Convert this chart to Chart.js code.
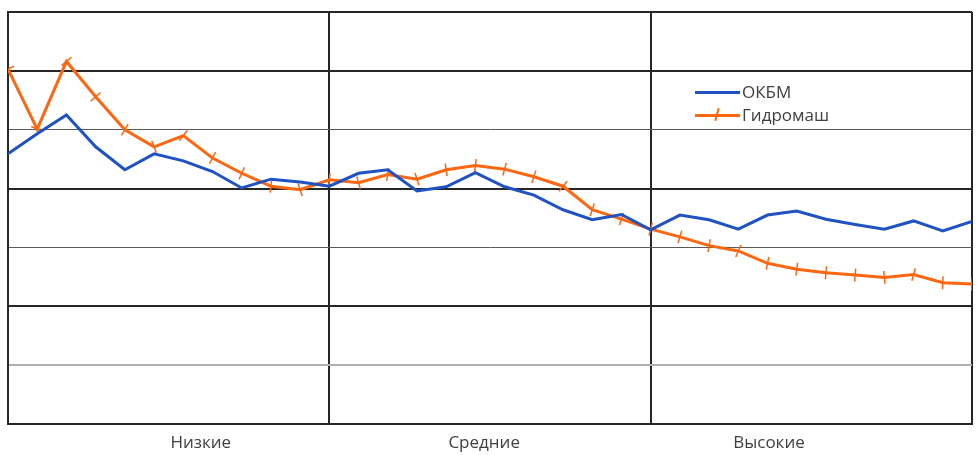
<!DOCTYPE html>
<html><head><meta charset="utf-8">
<script src="https://cdn.jsdelivr.net/npm/chart.js@4/dist/chart.umd.min.js"></script>
<style>
html,body{margin:0;padding:0;background:#fff}
#wrap{position:relative;width:980px;height:455px}
#legend{position:absolute;left:695px;top:80px;font:17px 'Open Sans',sans-serif;color:#404040}
.item{position:relative;height:23px;line-height:23px;padding-left:47px;white-space:nowrap}
.sw{position:absolute;left:0;top:11px;width:45px;height:3px}
.mk{position:absolute;left:21px;top:5px;width:2px;height:13px;transform:rotate(15deg)}
</style></head><body>
<div id="wrap"><canvas id="c" width="980" height="455"></canvas><div id="legend"></div></div>
<script>
const steps = [0,1,2,3,4,5,6,7,8,9,10,11,12,13,14,15,16,17,18,19,20,21,22,23,24,25,26,27,28,29,30,31,32,33];
const sections = ['Низкие','Средние','Высокие'];
const seriesNames = ['ОКБМ','Гидромаш'];
const okbm = [4.59,4.93,5.25,4.71,4.32,4.59,4.47,4.29,4.01,4.16,4.11,4.04,4.26,4.32,3.96,4.03,4.27,4.03,3.89,3.64,3.47,3.56,3.30,3.55,3.47,3.31,3.55,3.62,3.48,3.39,3.31,3.45,3.28,3.44];
const gidromash = [6.03,5.01,6.16,5.56,5.00,4.71,4.90,4.52,4.26,4.04,3.98,4.15,4.10,4.24,4.16,4.32,4.39,4.33,4.20,4.04,3.64,3.48,3.31,3.18,3.03,2.94,2.73,2.63,2.57,2.53,2.49,2.54,2.40,2.38];
const yTicks = [0,1,2,3,4,5,6,7];

const BLUE = '#1f52c2', ORANGE = '#fd6711';
const toXY = arr => arr.map((v,i)=>({x:steps[i], y:v}));
const sectionLabelAt = [6.6, 16.3, 26.05];

const yGridColor = v => ({1:'#b0b0b0',3:'#5a5a5a',5:'#5a5a5a'})[v] || '#262626';
const yGridWidth = v => (v===3||v===5) ? 1 : 2;

// marker perpendicular to the outgoing segment
function perpRotation(ctx) {
  const ch = ctx.chart, ds = ch.data.datasets[ctx.datasetIndex].data, i = ctx.dataIndex;
  const sx = ch.scales.x, sy = ch.scales.y;
  if (!sx || !sy || !ds[i]) return 90;
  const j = i < ds.length - 1 ? i + 1 : i - 1;
  const a = ds[Math.min(i,j)], b = ds[Math.max(i,j)];
  const dx = sx.getPixelForValue(b.x) - sx.getPixelForValue(a.x);
  const dy = sy.getPixelForValue(b.y) - sy.getPixelForValue(a.y);
  return Math.atan2(dy, dx) * 180 / Math.PI + 90;
}

const chart = new Chart(document.getElementById('c'), {
  type: 'line',
  data: {
    datasets: [
      {label: seriesNames[0], data: toXY(okbm), borderColor: BLUE, backgroundColor: BLUE, borderWidth: 3, pointRadius: 0, tension: 0},
      {label: seriesNames[1], data: toXY(gidromash), borderColor: ORANGE, backgroundColor: ORANGE, borderWidth: 3,
       pointStyle: 'line', pointRadius: 6.5, pointRotation: perpRotation, pointBorderWidth: 1.5, pointBorderColor: ORANGE, tension: 0}
    ]
  },
  options: {
    responsive: false, animation: false, events: [],
    layout: {padding: {left: 8, right: 7, top: 12, bottom: 0}},
    plugins: {legend: {display: false}, tooltip: {enabled: false}},
    scales: {
      x: {type: 'linear', min: steps[0], max: steps[steps.length-1], position: 'bottom',
          ticks: {display: false, stepSize: 11},
          grid: {color: '#262626', lineWidth: 2, drawTicks: false},
          border: {color: '#262626', width: 2},
          afterFit: ax => { ax.height = 0; }},
      x2: {type: 'linear', min: steps[0], max: steps[steps.length-1], position: 'bottom',
           afterBuildTicks: ax => { ax.ticks = sectionLabelAt.map(v=>({value:v})); },
           afterFit: ax => { ax.height = 31; },
           ticks: {autoSkip: false, maxRotation: 0, padding: 9, color: '#404040',
                   font: {family: "'Open Sans', sans-serif", size: 17},
                   callback: (v, i) => sections[i]},
           grid: {display: false, drawTicks: false}, border: {display: false}},
      y: {min: yTicks[0], max: yTicks[yTicks.length-1],
          afterBuildTicks: ax => { ax.ticks = yTicks.map(v=>({value:v})); },
          ticks: {display: false},
          grid: {drawTicks: false, color: c => yGridColor(c.tick.value), lineWidth: c => yGridWidth(c.tick.value)},
          border: {color: '#262626', width: 2}}
    }
  }
});

const lg = document.getElementById('legend');
chart.data.datasets.forEach((ds, i) => {
  const it = document.createElement('div'); it.className = 'item';
  const sw = document.createElement('span'); sw.className = 'sw'; sw.style.background = ds.borderColor;
  it.appendChild(sw);
  if (ds.pointStyle === 'line') { const mk = document.createElement('span'); mk.className='mk'; mk.style.background = ds.borderColor; it.appendChild(mk); }
  it.appendChild(document.createTextNode(ds.label));
  lg.appendChild(it);
});
</script>
</body></html>
